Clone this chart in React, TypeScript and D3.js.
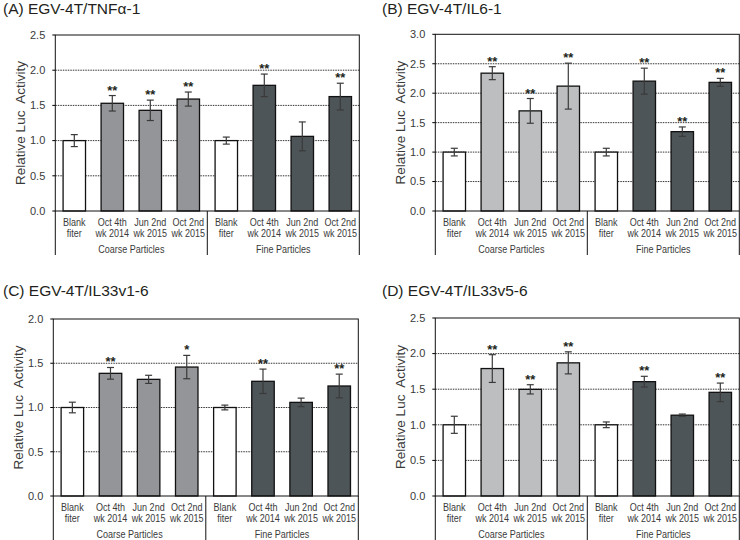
import React from "react";
import * as d3 from "d3";

const categories = ["Blank|fiter", "Oct 4th|wk 2014", "Jun 2nd|wk 2015", "Oct 2nd|wk 2015", "Blank|fiter", "Oct 4th|wk 2014", "Jun 2nd|wk 2015", "Oct 2nd|wk 2015"];
const groups = ["Coarse Particles", "Fine Particles"];

const titles = ["(A) EGV-4T/TNF\u03b1-1", "(B) EGV-4T/IL6-1", "(C) EGV-4T/IL33v1-6", "(D) EGV-4T/IL33v5-6"];
const yMaxes = [2.5, 3.0, 2.0, 2.5];

const valuesA = [1.0, 1.53, 1.43, 1.59, 1.0, 1.785, 1.06, 1.625];
const errorsA = [0.085, 0.11, 0.145, 0.1, 0.05, 0.16, 0.205, 0.19];
const starsA = ["", "**", "**", "**", "", "**", "", "**"];

const valuesB = [1.0, 2.34, 1.7, 2.12, 1.0, 2.205, 1.347, 2.184];
const errorsB = [0.065, 0.11, 0.21, 0.39, 0.065, 0.22, 0.08, 0.068];
const starsB = ["", "**", "**", "**", "", "**", "**", "**"];

const valuesC = [1.0, 1.386, 1.318, 1.457, 1.0, 1.296, 1.058, 1.243];
const errorsC = [0.06, 0.066, 0.046, 0.132, 0.027, 0.138, 0.048, 0.134];
const starsC = ["", "**", "", "*", "", "**", "", "**"];

const valuesD = [1.0, 1.79, 1.498, 1.87, 1.0, 1.606, 1.135, 1.456];
const errorsD = [0.12, 0.195, 0.065, 0.155, 0.04, 0.075, 0.016, 0.13];
const starsD = ["", "**", "**", "**", "", "**", "", "**"];

const FONT = "'Liberation Sans', Arial, sans-serif";

type PanelProps = {
  title: string;
  values: number[];
  errors: number[];
  stars: string[];
  yMax: number;
  coarseColor: string;
  layout: { left: number; right: number; top: number; bottom: number; catBottom: number; titleX: number; titleY: number; yTitleX: number };
};

function NarrowText({ x, y, children }: { x: number; y: number; children: string }) {
  return (
    <g transform={`translate(${x},${y}) scale(0.86,1)`}>
      <text x={0} y={0} dy="0.35em" textAnchor="middle" fontSize={10.5} fill="#3a3a3a" fontFamily={FONT}>{children}</text>
    </g>
  );
}

function Panel({ title, values, errors, stars, yMax, coarseColor, layout }: PanelProps) {
  const { left, right, top, bottom, catBottom, titleX, titleY, yTitleX } = layout;
  const x = d3.scaleBand<number>().domain(d3.range(categories.length)).range([left, right]).paddingInner(0.41).paddingOuter(0.205);
  const y = d3.scaleLinear().domain([0, yMax]).range([bottom, top]);
  const ticks = d3.range(0, yMax + 0.001, 0.5);
  const step = x.step();
  const mid = left + step * 4;
  const fills = ["#ffffff", coarseColor, coarseColor, coarseColor, "#ffffff", "#4e5558", "#4e5558", "#4e5558"];
  return (
    <g>
      <text x={titleX} y={titleY} fontSize={15.5} fill="#231f20" fontFamily={FONT}>{title}</text>
      {ticks.filter((t) => t > 0 && t < yMax - 0.001).map((t) => (
        <line key={"g" + t} x1={left} x2={right} y1={y(t)} y2={y(t)} stroke="#333" strokeWidth={1} strokeDasharray="1.5,1" />
      ))}
      {ticks.map((t) => (
        <g key={"t" + t}>
          <line x1={left - 3} x2={left} y1={y(t)} y2={y(t)} stroke="#000" strokeWidth={1} />
          <text x={left - 10} y={y(t)} dy="0.35em" textAnchor="end" fontSize={11} fill="#3a3a3a" fontFamily={FONT}>{t.toFixed(1)}</text>
        </g>
      ))}
      <text transform={`translate(${yTitleX},${(top + bottom) / 2}) rotate(-90)`} textAnchor="middle" dy="0.35em" fontSize={13.5} fill="#3a3a3a" fontFamily={FONT} style={{ whiteSpace: "pre" }}>{"Relative Luc  Activity"}</text>
      {values.map((v, i) => {
        const bx = x(i)!;
        const cx = bx + x.bandwidth() / 2;
        const e = errors[i];
        const yt = y(v + e);
        const yb = y(v - e);
        return (
          <g key={"b" + i}>
            <rect x={bx} y={y(v)} width={x.bandwidth()} height={bottom - y(v)} fill={fills[i]} stroke="#111" strokeWidth={1.3} />
            <line x1={cx} x2={cx} y1={yt} y2={yb} stroke="#3a3a3a" strokeWidth={1.2} />
            <line x1={cx - 3.5} x2={cx + 3.5} y1={yt} y2={yt} stroke="#3a3a3a" strokeWidth={1.2} />
            <line x1={cx - 3.5} x2={cx + 3.5} y1={yb} y2={yb} stroke="#3a3a3a" strokeWidth={1.2} />
            {stars[i] && (
              <text x={cx} y={yt - 1} textAnchor="middle" fontSize={13} fontWeight="bold" fill="#231f20" fontFamily={FONT}>{stars[i]}</text>
            )}
          </g>
        );
      })}
      <rect x={left} y={top} width={right - left} height={bottom - top} fill="none" stroke="#111" strokeWidth={1} />
      <line x1={left} x2={left} y1={bottom} y2={catBottom} stroke="#111" strokeWidth={1} />
      <line x1={mid} x2={mid} y1={bottom} y2={catBottom} stroke="#111" strokeWidth={1} />
      <line x1={right} x2={right} y1={bottom} y2={catBottom} stroke="#111" strokeWidth={1} />
      {categories.map((c, i) => {
        const cx = x(i)! + x.bandwidth() / 2;
        const [l1, l2] = c.split("|");
        return (
          <g key={"c" + i}>
            <NarrowText x={cx} y={bottom + 11}>{l1}</NarrowText>
            <NarrowText x={cx} y={bottom + 22}>{l2}</NarrowText>
          </g>
        );
      })}
      {groups.map((g, gi) => (
        <NarrowText key={g} x={left + step * (2 + 4 * gi)} y={bottom + 38.5}>{g}</NarrowText>
      ))}
    </g>
  );
}

export default function App() {
  return (
    <svg width={740} height={540} style={{ position: "absolute", left: 0, top: 0, background: "#fff" }}>
      <rect width={740} height={540} fill="#fff" />
      <Panel title={titles[0]} values={valuesA} errors={errorsA} stars={starsA} yMax={yMaxes[0]} coarseColor="#939598"
        layout={{ left: 55.3, right: 359.3, top: 35, bottom: 211, catBottom: 255, titleX: 3, titleY: 14, yTitleX: 20 }} />
      <Panel title={titles[1]} values={valuesB} errors={errorsB} stars={starsB} yMax={yMaxes[1]} coarseColor="#bcbec0"
        layout={{ left: 435.3, right: 739.3, top: 34.3, bottom: 211, catBottom: 255, titleX: 382, titleY: 14, yTitleX: 400 }} />
      <Panel title={titles[2]} values={valuesC} errors={errorsC} stars={starsC} yMax={yMaxes[2]} coarseColor="#939598"
        layout={{ left: 53.3, right: 358.3, top: 319, bottom: 496, catBottom: 540, titleX: 3, titleY: 296, yTitleX: 18 }} />
      <Panel title={titles[3]} values={valuesD} errors={errorsD} stars={starsD} yMax={yMaxes[3]} coarseColor="#bcbec0"
        layout={{ left: 435.3, right: 739.3, top: 318, bottom: 496, catBottom: 540, titleX: 382, titleY: 296, yTitleX: 400 }} />
    </svg>
  );
}
